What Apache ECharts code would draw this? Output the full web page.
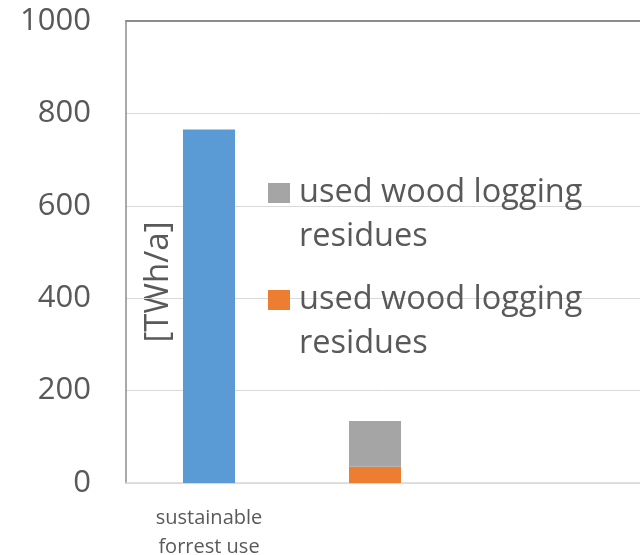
<!DOCTYPE html>
<html>
<head>
<meta charset="utf-8">
<script src="https://cdn.jsdelivr.net/npm/echarts@6/dist/echarts.min.js"></script>
<style>
  html, body { margin: 0; padding: 0; background: #ffffff; }
  #chart { width: 640px; height: 555px; }
</style>
</head>
<body>
<div id="chart"></div>
<script>
// Categories along the x axis (only the first one is labelled)
const categories = ['sustainable\nforrest use', '', '', ''];

// Bar values in TWh/a
const forestUse = [765, '-', '-', '-'];
const orangePart = ['-', 35, '-', '-'];
const grayPart = ['-', 99, '-', '-'];

// Legend labels (both entries carry the same text)
const legendLabels = {
  grayResidues: 'used wood logging\nresidues',
  orangeResidues: 'used wood logging\nresidues'
};

// Value axis ticks
const yMin = 0, yMax = 1000, yStep = 200;

const textColor = '#595959';
const fontFamily = '"Open Sans", "Noto Sans", sans-serif';

const chart = echarts.init(document.getElementById('chart'), null, { renderer: 'canvas' });

chart.setOption({
  animation: false,
  backgroundColor: '#ffffff',
  grid: {
    left: 126, top: 21, width: 664, height: 462,
    containLabel: false,
    outerBoundsMode: 'none'
  },
  legend: {
    data: ['grayResidues', 'orangeResidues'],
    orient: 'vertical',
    left: 268,
    top: 127,
    padding: 0,
    itemGap: -25,
    itemWidth: 22,
    itemHeight: 20,
    icon: 'rect',
    selectedMode: false,
    formatter: function (name) { return '\n' + legendLabels[name]; },
    textStyle: {
      fontFamily: fontFamily, fontSize: 32.5, color: textColor, lineHeight: 44,
      padding: [0, 0, 0, 4]
    }
  },
  xAxis: [{
    type: 'category',
    data: categories,
    axisTick: { show: false },
    axisLine: { show: true, lineStyle: { color: '#d9d9d9', width: 1.5 } },
    axisLabel: {
      interval: 0, margin: 21,
      fontFamily: fontFamily, fontSize: 20, color: textColor, lineHeight: 29
    }
  }, {
    type: 'category',
    data: categories,
    position: 'top',
    axisTick: { show: false },
    axisLabel: { show: false },
    axisLine: { show: true, lineStyle: { color: '#8c8c8c', width: 2 } }
  }],
  yAxis: {
    type: 'value',
    min: yMin, max: yMax, interval: yStep,
    axisLine: { show: true, lineStyle: { color: '#8c8c8c', width: 1.5 } },
    axisTick: { show: false },
    splitLine: { show: true, lineStyle: { color: '#d9d9d9', width: 1 } },
    axisLabel: {
      margin: 35, fontFamily: fontFamily, fontSize: 31, color: textColor,
      formatter: function (v) { return String(v); }
    }
  },
  graphic: [{
    type: 'text',
    x: 159, y: 282,
    rotation: Math.PI / 2,
    style: {
      text: '[TWh/a]',
      fontFamily: fontFamily, fontSize: 33, fill: textColor,
      textAlign: 'center', verticalAlign: 'middle'
    }
  }],
  series: [{
    name: 'forestUse',
    type: 'bar',
    stack: 'total',
    barWidth: 52,
    data: forestUse,
    itemStyle: { color: '#5b9bd5' }
  }, {
    name: 'orangeResidues',
    type: 'bar',
    stack: 'total',
    barWidth: 52,
    data: orangePart,
    itemStyle: { color: '#ed7d31' }
  }, {
    name: 'grayResidues',
    type: 'bar',
    stack: 'total',
    barWidth: 52,
    data: grayPart,
    itemStyle: { color: '#a5a5a5' }
  }]
});
</script>
</body>
</html>
